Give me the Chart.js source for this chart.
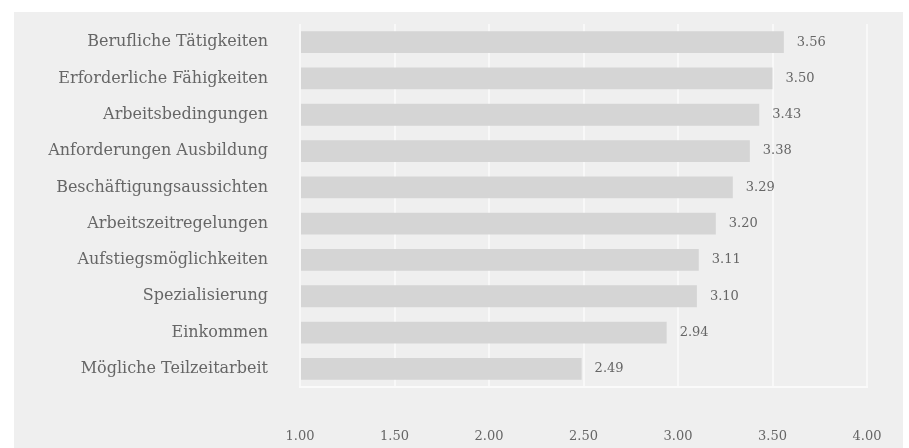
<!DOCTYPE html>
<html>
<head>
<meta charset="utf-8">
<script src="https://cdn.jsdelivr.net/npm/chart.js@4/dist/chart.umd.min.js"></script>
<style>
  html, body { margin: 0; padding: 0; background: #ffffff; }
  #wrap { width: 909px; height: 448px; position: relative; }
</style>
</head>
<body>
<div id="wrap"><canvas id="barChart"></canvas></div>
<script>
// categories, top to bottom
const categories = [
  'Berufliche Tätigkeiten',
  'Erforderliche Fähigkeiten',
  'Arbeitsbedingungen',
  'Anforderungen Ausbildung',
  'Beschäftigungsaussichten',
  'Arbeitszeitregelungen',
  'Aufstiegsmöglichkeiten',
  'Spezialisierung',
  'Einkommen',
  'Mögliche Teilzeitarbeit'
];
const values = [3.56, 3.50, 3.43, 3.38, 3.29, 3.20, 3.11, 3.10, 2.94, 2.49];
const tickValues = [1.00, 1.50, 2.00, 2.50, 3.00, 3.50, 4.00];

const FONT = 'DejaVu Serif';
const TEXT = '#666666';

// grey panel behind the whole chart
const panelBg = {
  id: 'panelBg',
  beforeDraw(chart) {
    const c = chart.ctx;
    c.save();
    c.fillStyle = '#ffffff';
    c.fillRect(0, 0, chart.width, chart.height);
    c.fillStyle = '#efefef';
    c.fillRect(14, 12, chart.width - 20, chart.height - 12);
    c.restore();
  }
};

// value written right of each bar
const valueLabels = {
  id: 'valueLabels',
  afterDatasetsDraw(chart) {
    const c = chart.ctx;
    const meta = chart.getDatasetMeta(0);
    c.save();
    c.font = '13px "' + FONT + '"';
    c.fillStyle = TEXT;
    c.textAlign = 'left';
    c.textBaseline = 'middle';
    meta.data.forEach((bar, i) => {
      c.fillText(values[i].toFixed(2), bar.x + 13, bar.y);
    });
    c.restore();
  }
};

new Chart(document.getElementById('barChart'), {
  type: 'bar',
  data: {
    labels: categories,
    datasets: [{
      data: values,
      base: 1,
      backgroundColor: '#d5d5d5',
      borderWidth: 0,
      barPercentage: 0.6,
      categoryPercentage: 1.0
    }]
  },
  options: {
    indexAxis: 'y',
    responsive: true,
    maintainAspectRatio: false,
    animation: false,
    layout: { padding: { top: 24, right: 42, bottom: 0, left: 0 } },
    plugins: {
      legend: { display: false },
      tooltip: { enabled: false }
    },
    scales: {
      x: {
        min: 1,
        max: 4,
        afterBuildTicks(scale) {
          scale.ticks = tickValues.map(v => ({ value: v }));
        },
        afterFit(scale) {
          scale.height = 61;
          scale.paddingLeft = 0;
          scale.paddingRight = 0;
        },
        grid: { color: '#f8f8f8', lineWidth: 2, drawTicks: false },
        border: { display: true, color: '#fafafa', width: 2 },
        ticks: {
          padding: 42,
          color: TEXT,
          font: { family: FONT, size: 13 },
          callback: v => Number(v).toFixed(2)
        }
      },
      y: {
        afterFit(scale) {
          scale.width = 300;
          scale.paddingTop = 0;
          scale.paddingBottom = 0;
        },
        grid: { display: false, drawTicks: false },
        border: { display: false },
        ticks: {
          padding: 32,
          color: TEXT,
          font: { family: FONT, size: 16 }
        }
      }
    }
  },
  plugins: [panelBg, valueLabels]
});
</script>
</body>
</html>
